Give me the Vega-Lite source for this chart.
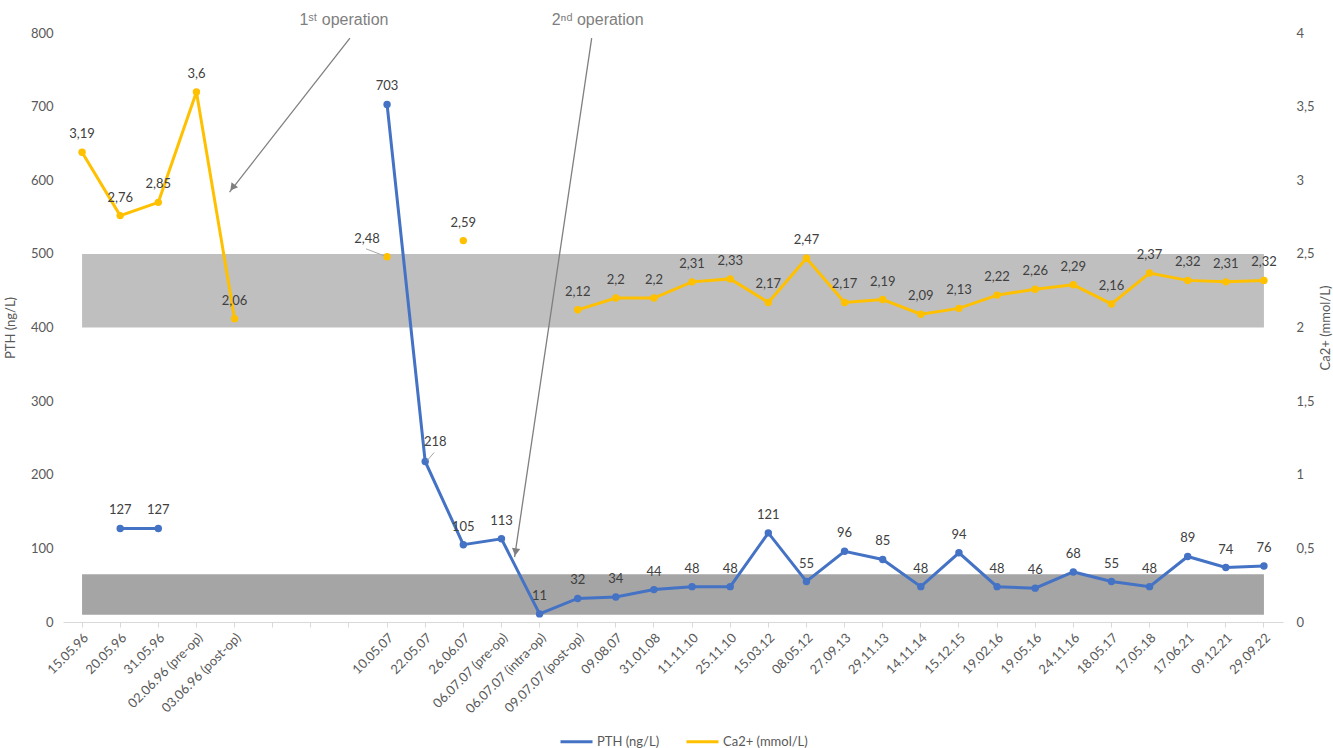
{
  "$schema": "https://vega.github.io/schema/vega-lite/v6.json",
  "width": 1220,
  "height": 589,
  "autosize": "none",
  "padding": {"left": 63, "top": 33, "right": 50, "bottom": 126},
  "background": "white",
  "config": {
    "view": {"stroke": null},
    "font": "Lato"
  },
  "datasets": {
    "main": [
      {"d": "15.05.96", "pth": null, "ca": 3.19},
      {"d": "20.05.96", "pth": 127, "ca": 2.76},
      {"d": "31.05.96", "pth": 127, "ca": 2.85},
      {"d": "02.06.96 (pre-op)", "pth": null, "ca": 3.6},
      {"d": "03.06.96 (post-op)", "pth": null, "ca": 2.06},
      {"d": "gap1", "pth": null, "ca": null},
      {"d": "gap2", "pth": null, "ca": null},
      {"d": "gap3", "pth": null, "ca": null},
      {"d": "10.05.07", "pth": 703, "ca": 2.48},
      {"d": "22.05.07", "pth": 218, "ca": null},
      {"d": "26.06.07", "pth": 105, "ca": 2.59},
      {"d": "06.07.07 (pre-op)", "pth": 113, "ca": null},
      {"d": "06.07.07 (intra-op)", "pth": 11, "ca": null},
      {"d": "09.07.07 (post-op)", "pth": 32, "ca": 2.12},
      {"d": "09.08.07", "pth": 34, "ca": 2.2},
      {"d": "31.01.08", "pth": 44, "ca": 2.2},
      {"d": "11.11.10", "pth": 48, "ca": 2.31},
      {"d": "25.11.10", "pth": 48, "ca": 2.33},
      {"d": "15.03.12", "pth": 121, "ca": 2.17},
      {"d": "08.05.12", "pth": 55, "ca": 2.47},
      {"d": "27.09.13", "pth": 96, "ca": 2.17},
      {"d": "29.11.13", "pth": 85, "ca": 2.19},
      {"d": "14.11.14", "pth": 48, "ca": 2.09},
      {"d": "15.12.15", "pth": 94, "ca": 2.13},
      {"d": "19.02.16", "pth": 48, "ca": 2.22},
      {"d": "19.05.16", "pth": 46, "ca": 2.26},
      {"d": "24.11.16", "pth": 68, "ca": 2.29},
      {"d": "18.05.17", "pth": 55, "ca": 2.16},
      {"d": "17.05.18", "pth": 48, "ca": 2.37},
      {"d": "17.06.21", "pth": 89, "ca": 2.32},
      {"d": "09.12.21", "pth": 74, "ca": 2.31},
      {"d": "29.09.22", "pth": 76, "ca": 2.32}
    ],
    "ranges": [
      {"zone": "Ca2+ reference", "d": "15.05.96", "d2": "29.09.22", "pth": 400, "pth2": 500},
      {"zone": "PTH reference", "d": "15.05.96", "d2": "29.09.22", "pth": 10, "pth2": 65}
    ],
    "arrows": [
      {"op": "1", "d": "gap3", "d2": "03.06.96 (post-op)", "pth": 793, "pth2": 584},
      {"op": "2", "d": "09.07.07 (post-op)", "d2": "06.07.07 (intra-op)", "pth": 793, "pth2": 88}
    ],
    "heads": [
      {"op": "1", "d": "03.06.96 (post-op)", "pth": 590},
      {"op": "2", "d": "06.07.07 (intra-op)", "pth": 95}
    ],
    "notes": [
      {"op": "1", "d": "gap3", "pth": 817, "label": "1ˢᵗ operation"},
      {"op": "2", "d": "09.07.07 (post-op)", "pth": 817, "label": "2ⁿᵈ operation"}
    ]
  },
  "data": {"name": "main"},
  "encoding": {
    "x": {
      "field": "d",
      "type": "ordinal",
      "scale": {
        "paddingInner": 0,
        "paddingOuter": 0,
        "domain": ["15.05.96", "20.05.96", "31.05.96", "02.06.96 (pre-op)", "03.06.96 (post-op)", "gap1", "gap2", "gap3", "10.05.07", "22.05.07", "26.06.07", "06.07.07 (pre-op)", "06.07.07 (intra-op)", "09.07.07 (post-op)", "09.08.07", "31.01.08", "11.11.10", "25.11.10", "15.03.12", "08.05.12", "27.09.13", "29.11.13", "14.11.14", "15.12.15", "19.02.16", "19.05.16", "24.11.16", "18.05.17", "17.05.18", "17.06.21", "09.12.21", "29.09.22"]
      },
      "axis": {
        "title": null,
        "labelExpr": "indexof(datum.value, 'gap') == 0 ? '' : datum.value",
        "labelAngle": -45,
        "labelFontSize": 13,
        "labelColor": "#595959",
        "labelPadding": 4,
        "domainColor": "#D9D9D9",
        "tickColor": "#D9D9D9",
        "tickSize": 5,
        "grid": false
      }
    }
  },
  "layer": [
    {
      "encoding": {
        "y": {
          "field": "pth",
          "type": "quantitative",
          "scale": {"domain": [0, 800], "nice": false},
          "axis": {
            "title": "PTH (ng/L)",
            "titleFontSize": 13,
            "titleFontWeight": "normal",
            "titleColor": "#595959",
            "titlePadding": 13,
            "values": [0, 100, 200, 300, 400, 500, 600, 700, 800],
            "labelFontSize": 13,
            "labelColor": "#595959",
            "labelPadding": 10,
            "domain": false,
            "ticks": false,
            "grid": false
          }
        }
      },
      "layer": [
        {
          "data": {"name": "ranges"},
          "mark": {"type": "rect", "opacity": 1},
          "encoding": {
            "x2": {"field": "d2"},
            "y2": {"field": "pth2"},
            "fill": {"field": "zone", "type": "nominal", "scale": {"domain": ["Ca2+ reference", "PTH reference"], "range": ["#BFBFBF", "#A5A5A5"]}, "legend": null}
          }
        },
        {
          "mark": {"type": "line", "strokeWidth": 3},
          "encoding": {
            "color": {"datum": "PTH (ng/L)", "type": "nominal", "scale": {"domain": ["PTH (ng/L)", "Ca2+ (mmol/L)"], "range": ["#4472C4", "#FFC000"]},
              "legend": {
                "title": null,
                "orient": "none",
                "direction": "horizontal",
                "legendX": 496,
                "legendY": 691,
                "symbolType": "stroke",
                "symbolSize": 1024,
                "symbolStrokeWidth": 3,
                "labelFontSize": 13,
                "labelColor": "#595959",
                "labelOffset": 3,
                "columnPadding": 20
              }
            }
          }
        },
        {
          "transform": [{"filter": "datum.pth != null"}],
          "mark": {"type": "point", "filled": true, "opacity": 1, "size": 55},
          "encoding": {"color": {"datum": "PTH (ng/L)", "type": "nominal"}}
        },
        {
          "transform": [{"filter": "datum.pth != null && datum.d != '22.05.07'"}],
          "mark": {"type": "text", "dy": -18, "fontSize": 13, "color": "#404040", "baseline": "middle"},
          "encoding": {"text": {"field": "pth", "type": "quantitative"}}
        },
        {
          "transform": [{"filter": "datum.d == '22.05.07'"}],
          "mark": {"type": "text", "dx": 10, "dy": -19, "fontSize": 13, "color": "#404040", "baseline": "middle"},
          "encoding": {"text": {"field": "pth", "type": "quantitative"}}
        },
        {
          "transform": [{"filter": "datum.d == '22.05.07'"}],
          "mark": {"type": "rule", "color": "#A6A6A6", "strokeWidth": 1, "xOffset": 2, "x2Offset": 9, "yOffset": -1, "y2Offset": -9},
          "encoding": {"x2": {"field": "d"}, "y2": {"field": "pth"}}
        },
        {
          "data": {"name": "arrows"},
          "transform": [{"filter": "datum.op == '1'"}],
          "mark": {"type": "rule", "color": "#7F7F7F", "strokeWidth": 1.3, "xOffset": 1, "x2Offset": -5},
          "encoding": {"x2": {"field": "d2"}, "y2": {"field": "pth2"}}
        },
        {
          "data": {"name": "arrows"},
          "transform": [{"filter": "datum.op == '2'"}],
          "mark": {"type": "rule", "color": "#7F7F7F", "strokeWidth": 1.3, "xOffset": 14, "x2Offset": -25},
          "encoding": {"x2": {"field": "d2"}, "y2": {"field": "pth2"}}
        },
        {
          "data": {"name": "heads"},
          "transform": [{"filter": "datum.op == '1'"}],
          "mark": {"type": "point", "shape": "triangle-down", "filled": true, "color": "#7F7F7F", "opacity": 1, "size": 70, "angle": 38, "xOffset": -2},
          "encoding": {}
        },
        {
          "data": {"name": "heads"},
          "transform": [{"filter": "datum.op == '2'"}],
          "mark": {"type": "point", "shape": "triangle-down", "filled": true, "color": "#7F7F7F", "opacity": 1, "size": 70, "angle": 8.5, "xOffset": -24},
          "encoding": {}
        },
        {
          "data": {"name": "notes"},
          "transform": [{"filter": "datum.op == '1'"}],
          "mark": {"type": "text", "font": "Liberation Sans", "fontSize": 16, "color": "#7F7F7F", "baseline": "middle", "dx": -5},
          "encoding": {"text": {"field": "label"}}
        },
        {
          "data": {"name": "notes"},
          "transform": [{"filter": "datum.op == '2'"}],
          "mark": {"type": "text", "font": "Liberation Sans", "fontSize": 16, "color": "#7F7F7F", "baseline": "middle", "dx": 20},
          "encoding": {"text": {"field": "label"}}
        }
      ]
    },
    {
      "encoding": {
        "y": {
          "field": "ca",
          "type": "quantitative",
          "scale": {"domain": [0, 4], "nice": false},
          "axis": {
            "orient": "right",
            "title": "Ca2+ (mmol/L)",
            "titleAngle": -90,
            "titleFontSize": 13,
            "titleFontWeight": "normal",
            "titleColor": "#595959",
            "titlePadding": 18,
            "values": [0, 0.5, 1, 1.5, 2, 2.5, 3, 3.5, 4],
            "labelExpr": "replace(format(datum.value, '~g'), '.', ',')",
            "labelFontSize": 13,
            "labelColor": "#595959",
            "labelPadding": 13,
            "domain": false,
            "ticks": false,
            "grid": false
          }
        }
      },
      "layer": [
        {
          "mark": {"type": "line", "strokeWidth": 3},
          "encoding": {
            "color": {"datum": "Ca2+ (mmol/L)", "type": "nominal"}
          }
        },
        {
          "transform": [{"filter": "datum.ca != null"}],
          "mark": {"type": "point", "filled": true, "opacity": 1, "size": 55},
          "encoding": {"color": {"datum": "Ca2+ (mmol/L)", "type": "nominal"}}
        },
        {
          "transform": [{"filter": "datum.ca != null && datum.d != '10.05.07'"}, {"calculate": "replace(format(datum.ca, '~g'), '.', ',')", "as": "lab"}],
          "mark": {"type": "text", "dy": -18, "fontSize": 13, "color": "#404040", "baseline": "middle"},
          "encoding": {"text": {"field": "lab"}}
        },
        {
          "transform": [{"filter": "datum.d == '10.05.07'"}, {"calculate": "replace(format(datum.ca, '~g'), '.', ',')", "as": "lab"}],
          "mark": {"type": "text", "dx": -20, "dy": -18, "fontSize": 13, "color": "#404040", "baseline": "middle"},
          "encoding": {"text": {"field": "lab"}}
        },
        {
          "transform": [{"filter": "datum.d == '10.05.07'"}],
          "mark": {"type": "rule", "color": "#A6A6A6", "strokeWidth": 1, "xOffset": -21, "x2Offset": -3, "yOffset": -8, "y2Offset": -1},
          "encoding": {"x2": {"field": "d"}, "y2": {"field": "ca"}}
        }
      ]
    }
  ],
  "resolve": {"scale": {"y": "independent"}}
}
